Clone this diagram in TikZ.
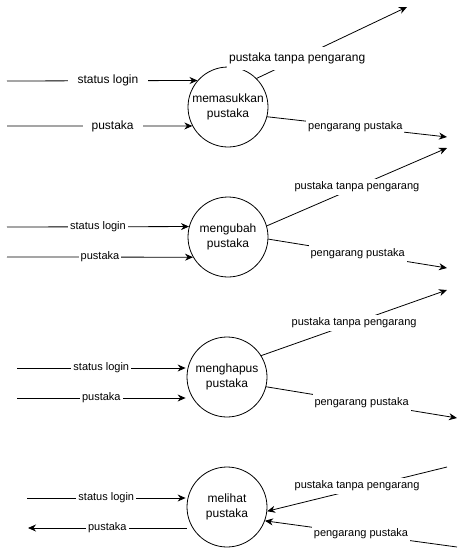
\documentclass[tikz,border=0pt]{standalone}
\usepackage{fontspec}
\setmainfont{Liberation Sans}
\usetikzlibrary{arrows.meta}

\begin{document}
\begin{tikzpicture}[x=1pt, y=-1pt, >={Stealth[length=8pt, width=7pt]}, line width=0.8pt,
    proc/.style={circle, draw, minimum size=80pt, inner sep=0pt, align=center, font=\fontsize{12}{14.5}\selectfont},
    lbl/.style={fill=white, inner xsep=2pt, inner ysep=3pt, font=\fontsize{11}{13}\selectfont},
    lblbig/.style={lbl, inner ysep=6pt, font=\fontsize{12}{14}\selectfont}]
    \useasboundingbox (0,0) rectangle (467,557);

    % Define processes
    \node[proc] (masuk) at (228,107) {memasukkan\\pustaka};
    \node[proc] (ubah) at (228,237) {mengubah\\pustaka};
    \node[proc] (hapus) at (227,377) {menghapus\\pustaka};
    \node[proc] (lihat) at (227,507) {melihat\\pustaka};

    % Define free ends
    \coordinate (sl1) at (7,81);
    \coordinate (ps1) at (7,126);
    \coordinate (ptp1) at (407,7);
    \coordinate (pp1) at (447,137);
    \coordinate (sl2) at (7,227);
    \coordinate (ps2) at (7,257);
    \coordinate (ptp2) at (447,148);
    \coordinate (pp2) at (447,268);
    \coordinate (sl3) at (17,368);
    \coordinate (ps3) at (17,398);
    \coordinate (ptp3) at (447,290);
    \coordinate (pp3) at (457,418);
    \coordinate (sl4) at (27,498);
    \coordinate (ps4) at (28,528);
    \coordinate (ptp4) at (447,467);
    \coordinate (pp4) at (457,547);

    % Draw flows: memasukkan pustaka
    \draw[->] (sl1) -- node[lblbig, inner xsep=10pt, pos=0.53] {status login} (masuk.139.5);
    \draw[->] (ps1) -- node[lblbig, inner xsep=9pt, pos=0.57] {pustaka} (masuk.208.4);
    \draw[->] (masuk.45) -- node[lblbig, pos=0.27, yshift=1pt] {pustaka tanpa pengarang} (ptp1);
    \draw[->] (masuk.-14) -- node[lbl, pos=0.49] {pengarang pustaka} (pp1);

    % Draw flows: mengubah pustaka
    \draw[->] (sl2) -- node[lbl] {status login} (ubah.165.5);
    \draw[->] (ps2) -- node[lbl] {pustaka} (ubah.210);
    \draw[->] (ubah.16) -- node[lbl] {pustaka tanpa pengarang} (ptp2);
    \draw[->] (ubah.-3) -- node[lbl] {pengarang pustaka} (pp2);

    % Draw flows: menghapus pustaka
    \draw[->] (sl3) -- node[lbl] {status login} ([xshift=-1pt]hapus.west |- sl3);
    \draw[->] (ps3) -- node[lbl] {pustaka} ([xshift=-1pt]hapus.west |- ps3);
    \draw[->] (hapus.32.5) -- node[lbl] {pustaka tanpa pengarang} (ptp3);
    \draw[->] (hapus.-14) -- node[lbl] {pengarang pustaka} (pp3);

    % Draw flows: melihat pustaka
    \draw[->] (sl4) -- node[lbl] {status login} ([xshift=-1pt]lihat.west |- sl4);
    \draw[->] (lihat.west |- ps4) -- node[lbl] {pustaka} (ps4);
    \draw[->] (ptp4) -- node[lbl, yshift=3pt] {pustaka tanpa pengarang} (lihat.-6);
    \draw[->] (pp4) -- node[lbl] {pengarang pustaka} (lihat.-20);
\end{tikzpicture}
\end{document}
